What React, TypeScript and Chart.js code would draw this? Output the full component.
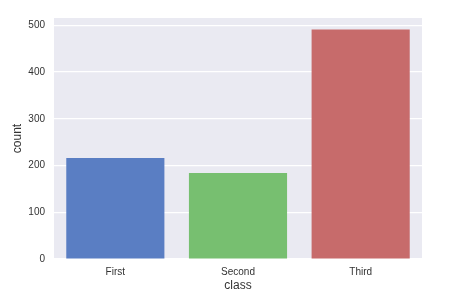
import React, { useEffect, useRef } from "react";
import { Chart, registerables } from "chart.js";

Chart.register(...registerables);

const categories = ["First", "Second", "Third"];
const counts = [216, 184, 491];
const barColors = ["#5a7ec3", "#77bf70", "#c76b6b"];
const yTicks = [0, 100, 200, 300, 400, 500];

const bgPlugin = {
  id: "plotBg",
  beforeDraw(chart: any) {
    const { ctx, chartArea } = chart;
    ctx.save();
    ctx.fillStyle = "#eaeaf2";
    ctx.fillRect(chartArea.left, chartArea.top, chartArea.right - chartArea.left, chartArea.bottom - chartArea.top);
    ctx.restore();
  },
};

export default function App() {
  const ref = useRef<HTMLCanvasElement>(null);
  useEffect(() => {
    const chart = new Chart(ref.current!, {
      type: "bar",
      data: {
        labels: categories,
        datasets: [
          {
            data: counts,
            backgroundColor: barColors,
            borderWidth: 0,
            barPercentage: 0.8,
            categoryPercentage: 1,
          },
        ],
      },
      plugins: [bgPlugin],
      options: {
        animation: false,
        responsive: false,
        maintainAspectRatio: false,
        layout: { padding: { top: 18, right: 30, left: 0, bottom: 0 } },
        plugins: { legend: { display: false }, tooltip: { enabled: false } },
        font: { family: "'Liberation Sans', Arial, sans-serif" },
        scales: {
          x: {
            grid: { display: false, drawTicks: false },
            border: { display: false },
            ticks: { color: "#333", font: { size: 10, family: "'Liberation Sans', Arial, sans-serif" }, padding: 7 },
            title: {
              display: true,
              text: "class",
              color: "#333",
              font: { size: 12, family: "'Liberation Sans', Arial, sans-serif" },
              padding: { top: 0, bottom: 11 },
            },
            afterFit(scale: any) {
              scale.height = 45;
            },
          },
          y: {
            min: 0,
            max: 515.55,
            afterBuildTicks(scale: any) {
              scale.ticks = yTicks.map((v) => ({ value: v }));
            },
            grid: { color: "#ffffff", lineWidth: 1.2, drawTicks: false },
            border: { display: false },
            ticks: { color: "#333", font: { size: 10, family: "'Liberation Sans', Arial, sans-serif" }, padding: 9 },
            title: {
              display: true,
              text: "count",
              color: "#333",
              font: { size: 12, family: "'Liberation Sans', Arial, sans-serif" },
              padding: { top: 10, bottom: 0 },
            },
            afterFit(scale: any) {
              scale.width = 54;
            },
          },
        },
      },
    });
    return () => chart.destroy();
  }, []);
  return (
    <div style={{ position: "absolute", left: 0, top: 0, width: 452, height: 304, background: "#fff" }}>
      <canvas ref={ref} width={452} height={304} style={{ width: 452, height: 304 }} />
    </div>
  );
}
